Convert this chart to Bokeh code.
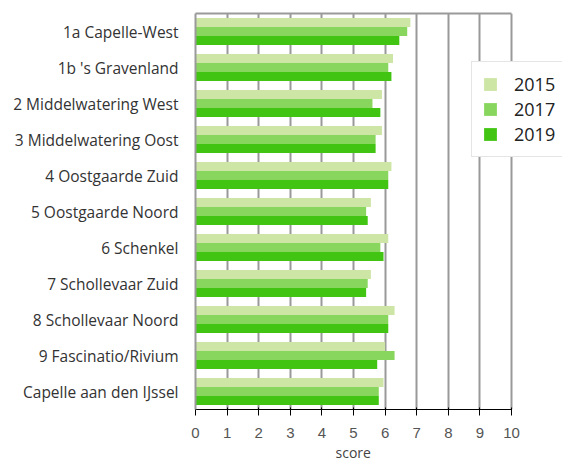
from bokeh.plotting import figure
from bokeh.models import (FactorRange, Range1d, FixedTicker, ColumnDataSource,
                          LinearAxis, Title)
from bokeh.transform import dodge
from bokeh.embed import file_html
from bokeh.resources import INLINE

categories = ["1a Capelle-West", "1b 's Gravenland", "2 Middelwatering West",
              "3 Middelwatering Oost", "4 Oostgaarde Zuid", "5 Oostgaarde Noord",
              "6 Schenkel", "7 Schollevaar Zuid", "8 Schollevaar Noord",
              "9 Fascinatio/Rivium", "Capelle aan den IJssel"]
years = ["2015", "2017", "2019"]
v2015 = [6.8, 6.25, 5.9, 5.9, 6.2, 5.55, 6.1, 5.55, 6.3, 6.0, 5.95]
v2017 = [6.7, 6.1, 5.6, 5.7, 6.1, 5.4, 5.85, 5.45, 6.1, 6.3, 5.8]
v2019 = [6.45, 6.2, 5.85, 5.7, 6.1, 5.45, 5.95, 5.4, 6.1, 5.75, 5.8]
x_ticks = [0, 1, 2, 3, 4, 5, 6, 7, 8, 9, 10]
x_min, x_max = 0, 10
colors = ["#cde5a5", "#89d65f", "#42c413"]

src = ColumnDataSource(dict(cat=categories, y2015=v2015, y2017=v2017, y2019=v2019))

FONT = "Open Sans"
BORDER = "#9a9a9a"
W, H = 562, 463
LEFT, TOP, BOTTOM = 195, 13, 54
AXIS_W = 316  # pixel width of the 0..10 axis
frame_w = W - LEFT
x_end = x_max * frame_w / AXIS_W  # extra room on the right for the legend

p = figure(width=W, height=H, output_backend="svg", toolbar_location=None,
           y_range=FactorRange(factors=list(reversed(categories))),
           x_range=Range1d(x_min, x_end),
           min_border_left=LEFT, min_border_top=TOP, min_border_right=0,
           min_border_bottom=BOTTOM)

offsets = [0.25, 0.0, -0.25]
for yr, col, off in zip(years, colors, offsets):
    p.hbar(y=dodge("cat", off, range=p.y_range), right="y" + yr, left=0, height=0.25,
           source=src, fill_color=col, line_color=None, legend_label=yr)

p.outline_line_color = None
p.ygrid.grid_line_color = None
p.xgrid.grid_line_color = "#999999"
p.xgrid.grid_line_width = 2
p.xaxis.ticker = FixedTicker(ticks=x_ticks)
p.xaxis.bounds = (x_min, x_max)

top_axis = LinearAxis(ticker=FixedTicker(ticks=[]), bounds=(x_min, x_max))
p.add_layout(top_axis, "above")

for ax in (p.xaxis[0], p.yaxis[0], top_axis):
    ax.axis_line_color = BORDER
    ax.axis_line_width = 2
    ax.major_tick_line_color = None
    ax.minor_tick_line_color = None
    ax.major_tick_out = 0
    ax.major_tick_in = 0
    ax.major_label_text_font = FONT

p.yaxis.major_label_text_font_size = "15.5px"
p.yaxis.major_label_text_color = "#333333"
p.yaxis.major_label_standoff = 17
p.xaxis.major_label_text_font_size = "15px"
p.xaxis.major_label_text_color = "#555555"
p.xaxis.major_label_standoff = 12

score_title = Title(text="score", align="left", offset=140, standoff=0,
                    text_font=FONT, text_font_size="14px", text_font_style="normal",
                    text_color="#444444")
p.add_layout(score_title, "below")

lg = p.legend[0]
lg.location = (276, 252)
lg.margin = 0
lg.padding = 10
lg.spacing = 1
lg.glyph_width = 16
lg.glyph_height = 16
lg.label_height = 16
lg.label_standoff = 16
lg.label_text_font = FONT
lg.label_text_font_size = "18px"
lg.label_text_color = "#222222"
lg.border_line_color = "#cccccc"
lg.border_line_width = 1
lg.background_fill_alpha = 1.0

open("out.html", "w").write(file_html(p, INLINE))
